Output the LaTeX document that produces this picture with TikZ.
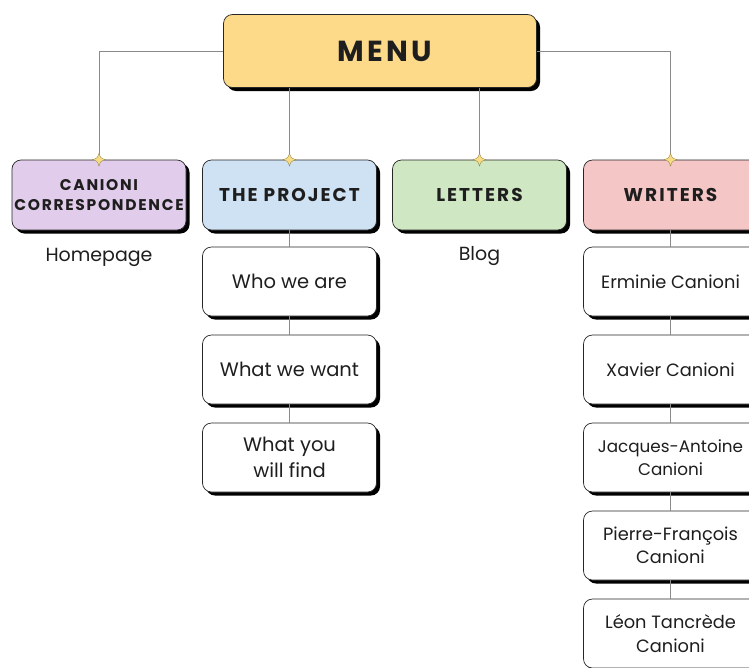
\documentclass[tikz,border=0pt]{standalone}
\usepackage{fontspec}
\setmainfont{Poppins}
\newfontfamily\headfont[LetterSpace=11]{Poppins}
\usetikzlibrary{shadows,calc}
\definecolor{menuY}{HTML}{FDD98A}
\definecolor{lav}{HTML}{E1CDEB}
\definecolor{lblue}{HTML}{CFE2F3}
\definecolor{lgreen}{HTML}{CFE8C3}
\definecolor{lpink}{HTML}{F4C6C6}
\definecolor{conn}{HTML}{8A8A8A}
\definecolor{starY}{HTML}{F7DC84}
\definecolor{ink}{HTML}{1E1E1E}
\tikzset{
  x=1pt,y=1pt,
  box/.style={draw=black!85, line width=0.7pt, rounded corners=9pt, fill=white,
    drop shadow={shadow xshift=3.5pt, shadow yshift=-3.5pt, fill=black, opacity=1},
    align=center, inner sep=2pt, text=ink},
  lvlbox/.style={box, minimum width=174pt, minimum height=70pt, font=\headfont\bfseries\fontsize{18.5}{21}\selectfont},
  childbox/.style={box, minimum width=174pt, minimum height=69pt, font=\fontsize{19.5}{26}\selectfont},
  wbox/.style={childbox, font=\fontsize{17.8}{23.5}\selectfont},
  link/.style={draw=conn, line width=0.7pt},
  plain/.style={font=\fontsize{19}{20}\selectfont, inner sep=0pt, text=ink},
  spark/.pic={
    \path[fill=starY, draw=starY!60!black, line width=0.35pt]
      (0,6.5) .. controls (1.6,1.6) .. (6.5,0) .. controls (1.6,-1.6) .. (0,-6.5)
      .. controls (-1.6,-1.6) .. (-6.5,0) .. controls (-1.6,1.6) .. (0,6.5) -- cycle;
  }
}
\begin{document}
\begin{tikzpicture}
\useasboundingbox (0,0) rectangle (749,-667);
\clip (0,0) rectangle (749,-667);
\node[box, fill=menuY, minimum width=313pt, minimum height=73pt, font=\headfont\bfseries\fontsize{29}{30}\selectfont] (menu) at (380,-51) {\hspace*{10pt}MENU};

\node[lvlbox, fill=lav, font=\headfont\bfseries\fontsize{15.5}{20.5}\selectfont, inner sep=0pt] (can) at (99,-195) {CANIONI\\CORRESPONDENCE};
\node[lvlbox, fill=lblue] (proj) at (289.5,-195) {THE PROJECT};
\node[lvlbox, fill=lgreen] (let) at (479.5,-195) {LETTERS};
\node[lvlbox, fill=lpink] (wri) at (670.5,-195) {WRITERS};

\node[plain] (home) at (99,-257) {Homepage};
\node[plain] (blog) at (479.5,-256) {Blog};

\node[childbox] (p1) at (289.5,-281.5) {Who we are};
\node[childbox] (p2) at (289.5,-369.5) {What we want};
\node[childbox] (p3) at (289.5,-457.5) {What you\\will find};

\node[wbox] (w1) at (670.5,-281.5) {Erminie Canioni};
\node[wbox] (w2) at (670.5,-369.5) {Xavier Canioni};
\node[wbox, font=\fontsize{16.8}{23.5}\selectfont] (w3) at (670.5,-457.5) {Jacques-Antoine\\Canioni};
\node[wbox] (w4) at (670.5,-545.5) {Pierre-François\\Canioni};
\node[wbox] (w5) at (670.5,-633.5) {Léon Tancrède\\Canioni};

\path[link] (menu.west) -| (can.north);
\path[link] (menu.east) -| (wri.north);
\path[link] (menu.south -| proj.north) -- (proj.north);
\path[link] (menu.south -| let.north) -- (let.north);
\path[link] (proj.south) -- (p1.north);
\path[link] (p1.south) -- (p2.north);
\path[link] (p2.south) -- (p3.north);
\path[link] (wri.south) -- (w1.north);
\path[link] (w1.south) -- (w2.north);
\path[link] (w2.south) -- (w3.north);
\path[link] (w3.south) -- (w4.north);
\path[link] (w4.south) -- (w5.north);

\foreach \n in {can,proj,let,wri} {
  \pic at (\n.north) {spark};
}
\end{tikzpicture}
\end{document}
